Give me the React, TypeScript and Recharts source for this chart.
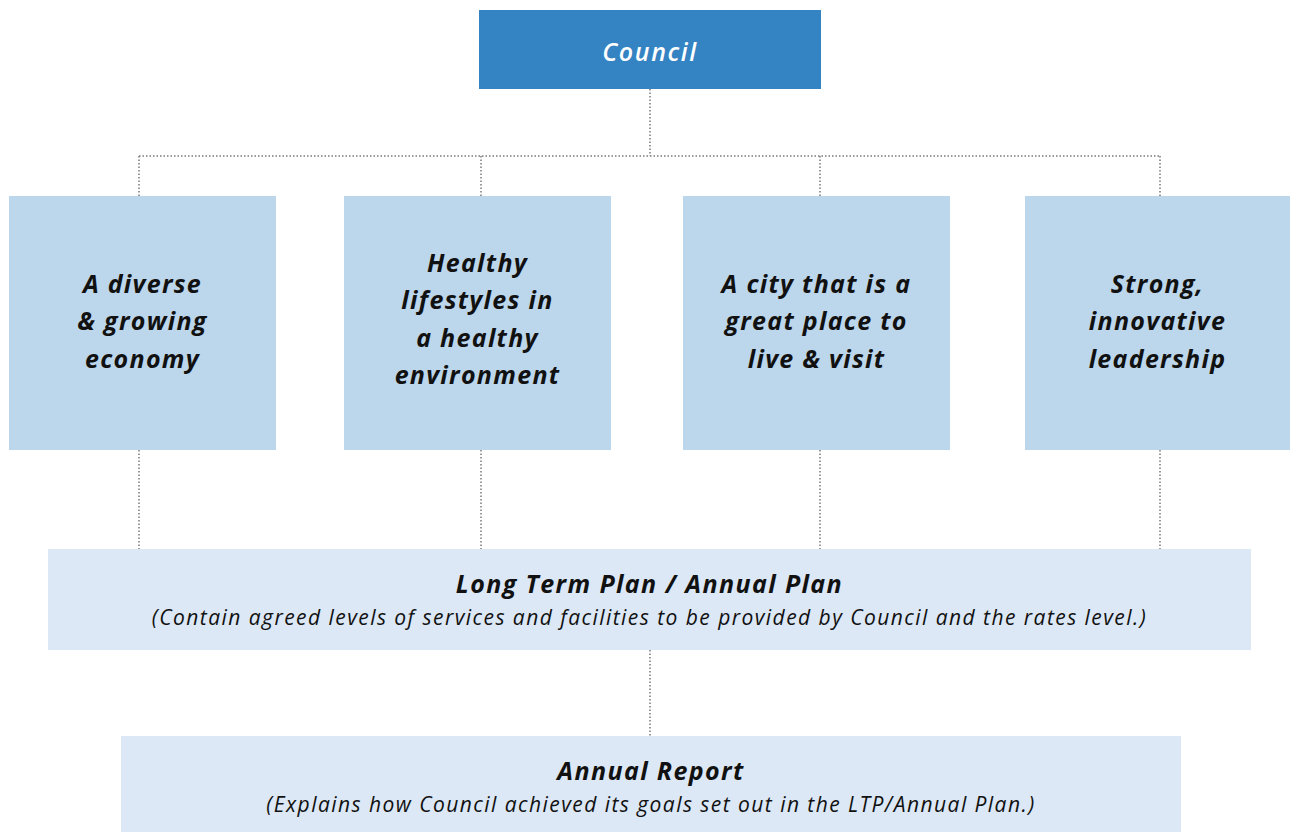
import React from "react"
import { ScatterChart, Scatter, XAxis, YAxis, ReferenceArea, ReferenceLine } from "recharts"

const W = 1290
const H = 832

// diagram boxes, in diagram units (x: 0..1290, y: 0..832 from top)
const boxIds = ["council", "economy", "lifestyles", "city", "leadership", "ltp", "report"]
const boxX = [[479, 821], [9, 276], [344, 611], [683, 950], [1025, 1290], [48, 1251], [121, 1181]]
const boxY = [[10, 89], [196, 450], [196, 450], [196, 450], [196, 450], [549, 650], [736, 832]]
const boxLevel = [0, 1, 1, 1, 1, 2, 2]

// node texts
const nodeTitles = [
  ["Council"],
  ["A diverse", "& growing", "economy"],
  ["Healthy", "lifestyles in", "a healthy", "environment"],
  ["A city that is a", "great place to", "live & visit"],
  ["Strong,", "innovative", "leadership"],
  ["Long Term Plan / Annual Plan"],
  ["Annual Report"],
]
const nodeNotes = [
  "",
  "",
  "",
  "",
  "",
  "(Contain agreed levels of services and facilities to be provided by Council and the rates level.)",
  "(Explains how Council achieved its goals set out in the LTP/Annual Plan.)",
]
const textCenterY = [51, 320, 318, 320, 320, 600, 787]

// dotted connectors
const connectors = [
  [650, 89, 650, 156],
  [139, 156, 1160, 156],
  [139, 156, 139, 196],
  [481, 156, 481, 196],
  [820, 156, 820, 196],
  [1160, 156, 1160, 196],
  [139, 450, 139, 549],
  [481, 450, 481, 549],
  [820, 450, 820, 549],
  [1160, 450, 1160, 549],
  [650, 650, 650, 736],
]

const levelFill = ["#3483C3", "#BCD6EB", "#DCE8F5"]
const FONT = "'Open Sans', sans-serif"

const nodes = boxIds.map((id, i) => ({
  id,
  x: (boxX[i][0] + boxX[i][1]) / 2,
  y: textCenterY[i],
  level: boxLevel[i],
  titles: nodeTitles[i],
  note: nodeNotes[i],
}))

function NodeText(props: any) {
  const { cx, cy, payload } = props
  if (payload.level === 0) {
    return (
      <text x={cx} y={cy} textAnchor="middle" dominantBaseline="central" fill="#fff"
        fontFamily={FONT} fontStyle="italic" fontWeight={600} fontSize={25} letterSpacing={1.6}>
        {payload.titles[0]}
      </text>
    )
  }
  if (payload.level === 1) {
    const lh = 37.5
    const start = cy - ((payload.titles.length - 1) * lh) / 2
    return (
      <text textAnchor="middle" fill="#111" fontFamily={FONT} fontStyle="italic" fontWeight={700}
        fontSize={25} letterSpacing={1.3}>
        {payload.titles.map((t: string, k: number) => (
          <tspan key={k} x={cx} y={start + k * lh} dominantBaseline="central">{t}</tspan>
        ))}
      </text>
    )
  }
  return (
    <g fontFamily={FONT} fontStyle="italic" fill="#111" textAnchor="middle">
      <text x={cx} y={cy - 17} dominantBaseline="central" fontWeight={700} fontSize={25} letterSpacing={1.4}>
        {payload.titles[0]}
      </text>
      <text x={cx} y={cy + 17} dominantBaseline="central" fontWeight={400} fontSize={21} letterSpacing={1.45}>
        {payload.note}
      </text>
    </g>
  )
}

export default function App() {
  return (
    <div style={{ position: "absolute", left: 0, top: 0, width: W, height: H, background: "#fff" }}>
      <ScatterChart width={W} height={H} margin={{ top: 0, right: 0, bottom: 0, left: 0 }}>
        <XAxis type="number" dataKey="x" domain={[0, W]} hide allowDataOverflow />
        <YAxis type="number" dataKey="y" domain={[0, H]} reversed hide allowDataOverflow />
        {connectors.map((c, i) => (
          <ReferenceLine key={"c" + i} segment={[{ x: c[0], y: c[1] }, { x: c[2], y: c[3] }]}
            stroke="#7a7a7a" strokeWidth={1.5} strokeDasharray="1.5 2" ifOverflow="visible" />
        ))}
        {boxIds.map((id, i) => (
          <ReferenceArea key={id} x1={boxX[i][0]} x2={boxX[i][1]} y1={boxY[i][0]} y2={boxY[i][1]}
            fill={levelFill[boxLevel[i]]} fillOpacity={1} stroke="none" ifOverflow="visible" />
        ))}
        <Scatter data={nodes} isAnimationActive={false} shape={(p: any) => <NodeText {...p} />} />
      </ScatterChart>
    </div>
  )
}
